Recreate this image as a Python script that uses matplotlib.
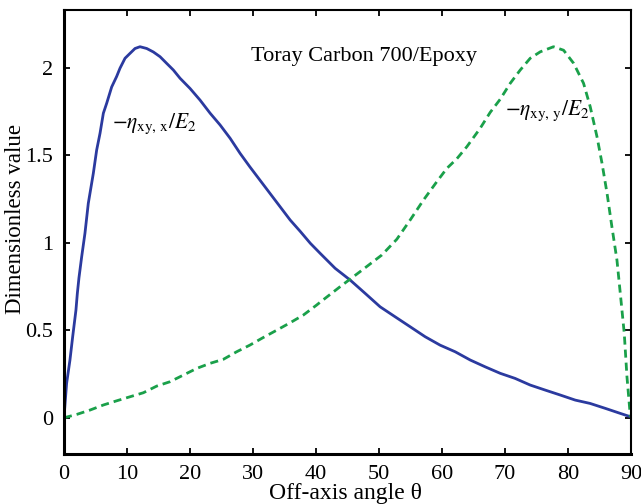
import matplotlib
matplotlib.use("Agg")
import matplotlib.pyplot as plt

plt.rcParams['font.family'] = ['Liberation Serif', 'DejaVu Serif']
plt.rcParams['mathtext.fontset'] = 'stix'

# Off-axis angle (deg) and dimensionless coupling coefficient -eta_xy,x / E2
theta_x = [0, 0.42, 0.95, 1.38, 1.9, 2.12, 2.38, 2.81, 3.33, 3.86, 4.66, 5.19,
           5.72, 6.25, 6.78, 7.57, 8.36, 8.89, 9.69, 10.48, 11.28, 12.07, 13.13, 14.19,
           15.25, 16.3, 17.36, 18.42, 20.0, 21.6, 23.2, 24.78, 26.37, 27.95, 29.5,
           31.1, 32.7, 34.3, 35.9, 37.5, 39.1, 40.65, 43.04, 45.42, 47.8, 50.18,
           52.56, 54.95, 57.33, 59.7, 62.1, 64.48, 66.86, 69.24, 71.6, 74.0, 76.4,
           78.77, 81.15, 83.5, 85.9, 88.3, 89.9]
eta_xy_x = [0, 0.197, 0.33, 0.463, 0.615, 0.71, 0.80, 0.92, 1.054, 1.225, 1.397,
            1.53, 1.625, 1.74, 1.797, 1.89, 1.95, 1.997, 2.054, 2.082, 2.11, 2.12, 2.11,
            2.09, 2.063, 2.025, 1.987, 1.94, 1.882, 1.815, 1.74, 1.673, 1.597, 1.511,
            1.434, 1.358, 1.282, 1.206, 1.13, 1.065, 0.997, 0.94, 0.854, 0.787, 0.711,
            0.634, 0.577, 0.52, 0.463, 0.415, 0.377, 0.33, 0.291, 0.254, 0.225, 0.187,
            0.158, 0.13, 0.101, 0.082, 0.054, 0.025, 0.006]

# Off-axis angle (deg) and dimensionless coupling coefficient -eta_xy,y / E2
theta_y = [0, 2.01, 4.13, 6.25, 8.37, 10.48, 12.6, 14.72, 16.83, 18.95, 21.07, 23.19,
           25.3, 27.4, 29.5, 31.65, 33.8, 35.9, 38.0, 40.1, 40.65, 43.83, 47.0, 50.45,
           52.83, 54.95, 57.06, 59.18, 60.77, 62.36, 63.95, 66.06, 67.65, 69.24, 70.83,
           72.42, 74.0, 75.6, 77.7, 79.3, 80.9, 82.47, 83.53, 84.6, 85.4, 86.2, 86.97,
           87.77, 88.3, 88.93, 89.36, 89.9]
eta_xy_y = [0, 0.019, 0.044, 0.073, 0.097, 0.12, 0.143, 0.181, 0.206, 0.244, 0.282,
            0.311, 0.334, 0.377, 0.415, 0.459, 0.501, 0.543, 0.587, 0.644, 0.66, 0.749,
            0.835, 0.93, 1.02, 1.13, 1.244, 1.349, 1.425, 1.48, 1.549, 1.654, 1.745,
            1.82, 1.911, 1.987, 2.054, 2.091, 2.12, 2.10, 2.025, 1.911, 1.777, 1.606,
            1.454, 1.282, 1.091, 0.901, 0.711, 0.482, 0.234, 0.006]

x_ticks = [0, 10, 20, 30, 40, 50, 60, 70, 80, 90]
y_ticks = [0, 0.5, 1, 1.5, 2]
y_tick_labels = ['0', '0.5', '1', '1.5', '2']

fig = plt.figure(figsize=(6.41, 5.04), dpi=100)
ax = fig.add_axes([0.0998, 0.0992, 0.8846, 0.881])

ax.plot(theta_x, eta_xy_x, color='#2b3a9f', lw=2.0, solid_joinstyle='round')
ax.plot(theta_y, eta_xy_y, color='#1aa04a', lw=2.0, dashes=(2.9, 1.8))

ax.set_xlim(0, 90)
ax.set_ylim(-0.207, 2.33)
ax.set_xticks(x_ticks)
ax.set_yticks(y_ticks)
ax.set_yticklabels(y_tick_labels)
ax.tick_params(direction='in', length=4, width=1.3, labelsize=16,
               top=True, right=True, pad=8)

for side in ['left', 'bottom']:
    ax.spines[side].set_linewidth(2.2)
for side in ['top', 'right']:
    ax.spines[side].set_linewidth(1.5)

ax.set_xlabel('Off-axis angle θ', fontsize=17)
ax.xaxis.set_label_coords(0.497, -0.101, transform=ax.transAxes)
ax.xaxis.label.set_va('baseline')
ax.set_ylabel('Dimensionless value', fontsize=16.5)
ax.yaxis.set_label_coords(-0.085, 0.53)
ax.yaxis.label.set_va('center')

ax.text(47.7, 2.038, 'Toray Carbon 700/Epoxy', fontsize=16, ha='center', va='baseline')
ax.text(7.6, 1.657, r'$-\eta_{\rm xy,\,x}/E_2$', fontsize=15.5, ha='left', va='baseline')
ax.text(70.0, 1.73, r'$-\eta_{\rm xy,\,y}/E_2$', fontsize=15.5, ha='left', va='baseline')

fig.savefig('out.png', dpi=100)
